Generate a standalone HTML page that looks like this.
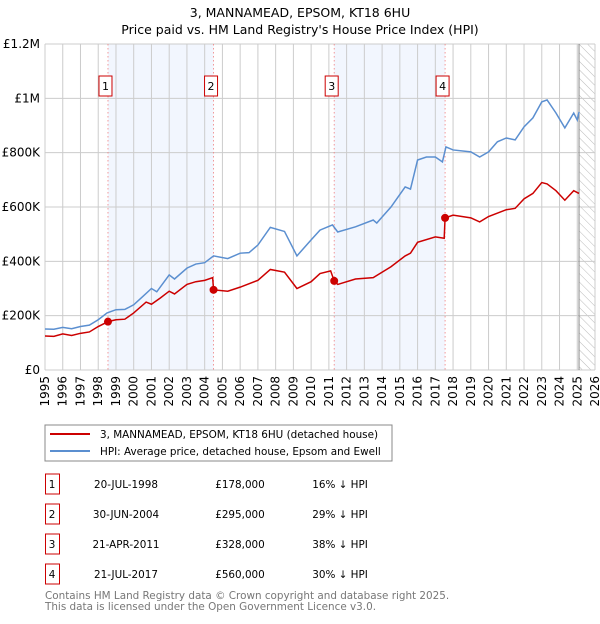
<!DOCTYPE html>
<html><head><meta charset="utf-8"><style>
body{margin:0;background:#fff;font-family:"DejaVu Sans","Liberation Sans",sans-serif;}
svg text{font-family:"DejaVu Sans","Liberation Sans",sans-serif;}
</style></head><body>
<svg id="c" width="600" height="620" xmlns="http://www.w3.org/2000/svg">
<defs><pattern id="hatch" width="6" height="6" patternUnits="userSpaceOnUse" patternTransform="rotate(-45)"><line x1="0" y1="0" x2="0" y2="6" stroke="#bbb" stroke-width="1"/></pattern></defs>
<text x="300" y="17" text-anchor="middle" font-size="12.5">3, MANNAMEAD, EPSOM, KT18 6HU</text>
<text x="300" y="34" text-anchor="middle" font-size="12.5">Price paid vs. HM Land Registry's House Price Index (HPI)</text>
<g id="plot"></g>
<rect x="45" y="425" width="347" height="36" fill="#fff" stroke="#888"/>
<line x1="50" y1="434" x2="90" y2="434" stroke="#cc0000" stroke-width="2"/>
<text x="100" y="438" font-size="10.4">3, MANNAMEAD, EPSOM, KT18 6HU (detached house)</text>
<line x1="50" y1="451" x2="90" y2="451" stroke="#5b8fd0" stroke-width="2"/>
<text x="100" y="455" font-size="10.4">HPI: Average price, detached house, Epsom and Ewell</text>
<g id="table" font-size="10.4"></g>
<text x="45" y="599" font-size="10.4" fill="#777">Contains HM Land Registry data © Crown copyright and database right 2025.</text>
<text x="45" y="610" font-size="10.4" fill="#777">This data is licensed under the Open Government Licence v3.0.</text>
</svg>
<script>
const hpiYears=[1995,1995.5,1996,1996.5,1997,1997.5,1998,1998.5,1999,1999.5,2000,2000.5,2001,2001.3,2002,2002.3,2003,2003.5,2004,2004.5,2005.3,2006,2006.5,2007,2007.7,2008.5,2009.2,2010,2010.5,2011.2,2011.5,2012.5,2013.5,2013.7,2014.5,2015.3,2015.6,2016,2016.5,2017,2017.4,2017.6,2018,2019,2019.5,2020,2020.5,2021,2021.5,2022,2022.5,2023,2023.3,2023.8,2024.3,2024.8,2025,2025.1];
const hpiValues=[151000,150000,157000,152000,160000,165000,185000,210000,222000,223000,240000,270000,300000,288000,350000,335000,375000,390000,395000,420000,410000,430000,432000,460000,525000,510000,420000,479000,515000,534000,508000,527000,552000,541000,600000,674000,666000,773000,784000,784000,766000,821000,810000,803000,784000,803000,840000,854000,847000,895000,928000,987000,994000,946000,891000,946000,920000,950000];
const ppYears=[1995,1995.5,1996,1996.5,1997,1997.5,1998,1998.55,1999,1999.5,2000,2000.7,2001,2001.5,2002,2002.3,2003,2003.5,2004,2004.45,2004.5,2005.3,2006,2007,2007.7,2008.5,2009.2,2010,2010.5,2011.1,2011.3,2011.5,2012.5,2013.5,2014.5,2015.3,2015.6,2016,2017,2017.5,2017.55,2018,2019,2019.5,2020,2021,2021.5,2022,2022.5,2023,2023.3,2023.8,2024.3,2024.8,2025.1];
const ppValues=[125000,124000,133000,127000,135000,140000,160000,178000,185000,187000,210000,250000,242000,265000,290000,280000,315000,325000,330000,340000,295000,290000,305000,330000,370000,360000,300000,325000,355000,365000,328000,315000,335000,340000,380000,420000,430000,470000,490000,485000,560000,570000,560000,545000,565000,590000,595000,630000,650000,690000,685000,660000,625000,660000,650000];
const saleYears=[1998.55,2004.5,2011.3,2017.55];
const saleValues=[178000,295000,328000,560000];
const saleLabels=["1","2","3","4"];
const saleDates=["20-JUL-1998","30-JUN-2004","21-APR-2011","21-JUL-2017"];
const salePrices=["£178,000","£295,000","£328,000","£560,000"];
const saleDiffs=["16% ↓ HPI","29% ↓ HPI","38% ↓ HPI","30% ↓ HPI"];
const yTicks=[0,200000,400000,600000,800000,1000000,1200000];
const yTickLabels=["£0","£200K","£400K","£600K","£800K","£1M","£1.2M"];
const xTicks=[1995,1996,1997,1998,1999,2000,2001,2002,2003,2004,2005,2006,2007,2008,2009,2010,2011,2012,2013,2014,2015,2016,2017,2018,2019,2020,2021,2022,2023,2024,2025,2026];
const dataEnd=2025.1;

const X0=45,X1=595,Y0=370,Y1=44;
const xs=y=>X0+(y-1995)/(2026-1995)*(X1-X0);
const ys=v=>Y0-v/1200000*(Y0-Y1);
const NS="http://www.w3.org/2000/svg";
const plot=document.getElementById('plot');
function mk(tag,attrs,parent){const e=document.createElementNS(NS,tag);for(const k in attrs)e.setAttribute(k,attrs[k]);(parent||plot).appendChild(e);return e;}

for(let i=0;i<saleYears.length;i+=2){
 const r=mk('rect',{x:xs(saleYears[i]),y:Y1,width:xs(saleYears[i+1])-xs(saleYears[i]),height:Y0-Y1,fill:'#f2f6fe'});
 
 
}
const h=mk('rect',{x:xs(dataEnd),y:Y1,width:X1-xs(dataEnd),height:Y0-Y1,fill:'url(#hatch)'});


yTicks.forEach((t,i)=>{
 const l=mk('line',{x1:X0,x2:X1,y1:ys(t),y2:ys(t),stroke:'#ccc'});
 
 
 const tx=mk('text',{x:40,y:ys(t)+4,'text-anchor':'end','font-size':12});
 tx.textContent=yTickLabels[i];
 
 
});
xTicks.forEach(t=>{
 const l=mk('line',{x1:xs(t),x2:xs(t),y1:Y1,y2:Y0,stroke:'#ccc'});
 
 
 const tx=mk('text',{x:0,y:0,'text-anchor':'end','font-size':12,transform:`translate(${xs(t)+4},376) rotate(-90)`});
 tx.textContent=t;
 
 
});
const el=mk('line',{x1:xs(dataEnd),x2:xs(dataEnd),y1:Y1,y2:Y0,stroke:'#888'});


saleYears.forEach((s,i)=>{
 const l=mk('line',{x1:xs(s),x2:xs(s),y1:Y1,y2:Y0,stroke:'#f08080','stroke-dasharray':'1.5,2.5','stroke-width':0.8});
 
 
 const b=mk('rect',{x:xs(s)-9,y:76,width:13,height:20,fill:'#fff',stroke:'#c00'});
 
 
 const t=mk('text',{x:xs(s)-2.5,y:90,'text-anchor':'middle','font-size':11});
 t.textContent=saleLabels[i];
 
 
});
const hp=mk('polyline',{points:hpiYears.map((y,i)=>xs(y)+','+ys(hpiValues[i])).join(' '),fill:'none',stroke:'#5b8fd0','stroke-width':1.5});


const pp=mk('polyline',{points:ppYears.map((y,i)=>xs(y)+','+ys(ppValues[i])).join(' '),fill:'none',stroke:'#cc0000','stroke-width':1.5});


saleYears.forEach((s,i)=>{
 const c=mk('circle',{cx:xs(s),cy:ys(saleValues[i]),r:4,fill:'#cc0000'});
 
 
});
const tb=document.getElementById('table');
saleLabels.forEach((lab,i)=>{
 const y=487+i*30;
 const b=mk('rect',{x:45.5,y:y-13,width:14,height:20,fill:'#fff',stroke:'#c00'},tb);
 
 
 const cols=[[52,lab],[126,saleDates[i]],[240,salePrices[i]],[340,saleDiffs[i]]];
 cols.forEach(c=>{
  const t=mk('text',{x:c[0],y:y+1,'text-anchor':'middle'},tb);
  t.textContent=c[1];
  
  
 });
});
</script>
</body></html>
